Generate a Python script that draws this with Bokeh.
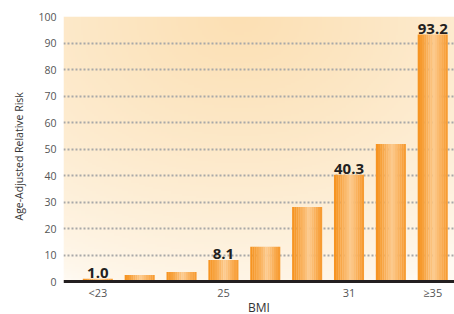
import numpy as np
from bokeh.plotting import figure
from bokeh.models import FixedTicker, Range1d, ColumnDataSource, Title
from bokeh.core.properties import value
from bokeh.embed import file_html
from bokeh.resources import INLINE

# ---- data ----
bmi_groups = ["<23", "23-23.9", "24-24.9", "25-26.9", "27-28.9", "29-30.9", "31-32.9", "33-34.9", "≥35"]
relative_risk = [1.0, 2.5, 3.6, 8.1, 13.1, 28.1, 40.3, 51.9, 93.2]
labelled_bars = [0, 3, 6, 8]
xtick_positions = [0, 3, 6, 8]
xtick_labels = ["<23", "25", "31", "≥35"]
yticks = list(range(0, 101, 10))
x_title = "BMI"
y_title = "Age-Adjusted Relative Risk"

x = np.arange(len(relative_risk))

p = figure(width=454, height=314, output_backend="svg", toolbar_location=None,
           x_range=Range1d(-0.82, 8.52), y_range=Range1d(-12.45, 100),
           min_border_left=62, min_border_right=0, min_border_top=16, min_border_bottom=0)
p.outline_line_color = None
p.background_fill_color = "white"
p.border_fill_color = "white"

# background gradient (decorative)
H, W = 120, 200
yy, xx = np.mgrid[0:H, 0:W]
u = xx / (W - 1)
v = yy / (H - 1)  # 0 bottom, 1 top
d = np.sqrt(((u - 0.45) * 1.1) ** 2 + ((1.0 - v) * 1.0) ** 2)
t = np.clip(1.0 - d / 1.1, 0, 1) ** 0.7
peach = np.array([252, 224, 180])
white = np.array([255, 250, 242])
img = np.zeros((H, W), dtype=np.uint32)
view = img.view(dtype=np.uint8).reshape((H, W, 4))
for c in range(3):
    view[:, :, c] = (white[c] + (peach[c] - white[c]) * t).astype(np.uint8)
view[:, :, 3] = 255
p.image_rgba(image=[img], x=-0.82, y=0, dw=9.34, dh=100, level="image")

# bars with cylindrical gradient
bar_w = 0.714
n = 14
edge = np.array([246, 146, 30])
center = np.array([253, 204, 145])
xs, tops, cols = [], [], []
for i, val in zip(x, relative_risk):
    for k in range(n):
        uu = (k + 0.5) / n
        s = 1 - abs(2 * uu - 1.1) / 1.1
        s = np.clip(s, 0, 1) ** 1.2
        col = edge + (center - edge) * s
        xs.append(i - bar_w / 2 + uu * bar_w)
        tops.append(val)
        cols.append("#%02x%02x%02x" % tuple(int(c) for c in col))
src = ColumnDataSource(dict(x=xs, top=tops, color=cols))
p.vbar(x="x", top="top", width=bar_w / n * 1.08, bottom=0, fill_color="color",
       line_color=None, source=src)

# value labels
lab = ColumnDataSource(dict(x=[x[i] for i in labelled_bars],
                            y=[relative_risk[i] for i in labelled_bars],
                            t=["%.1f" % relative_risk[i] for i in labelled_bars]))
p.text(x="x", y="y", text="t", source=lab, text_align="center", text_baseline="bottom",
       y_offset=-1, text_font=value("Open Sans"), text_font_style="bold",
       text_font_size="15px", text_color="#231f20")

# grid
p.xgrid.grid_line_color = None
p.ygrid.ticker = FixedTicker(ticks=yticks[1:])
p.ygrid.grid_line_color = "#a8a8a8"
p.ygrid.grid_line_dash = "2 2"
p.ygrid.grid_line_width = 2

# x axis drawn at y = 0
p.xaxis.fixed_location = 0
p.xaxis.ticker = FixedTicker(ticks=xtick_positions)
p.xaxis.major_label_overrides = {pos: lab for pos, lab in zip(xtick_positions, xtick_labels)}
p.xaxis.axis_label = x_title
p.xaxis.axis_line_color = "#231f20"
p.xaxis.axis_line_width = 3
p.xaxis.major_tick_line_color = None
p.xaxis.minor_tick_line_color = None
p.xaxis.major_tick_out = 0
p.xaxis.major_tick_in = 0
p.xaxis.minor_tick_out = 0
p.xaxis.major_label_text_font = "Open Sans"
p.xaxis.major_label_text_font_size = "11px"
p.xaxis.major_label_text_color = "#555555"
p.xaxis.major_label_standoff = 3
p.xaxis.axis_label_text_font = "Open Sans"
p.xaxis.axis_label_text_font_size = "12px"
p.xaxis.axis_label_text_font_style = "normal"
p.xaxis.axis_label_text_color = "#333333"
p.xaxis.axis_label_standoff = -4

p.yaxis.ticker = FixedTicker(ticks=yticks)
p.yaxis.axis_line_color = None
p.yaxis.major_tick_line_color = None
p.yaxis.minor_tick_line_color = None
p.yaxis.major_tick_out = 0
p.yaxis.major_tick_in = 0
p.yaxis.minor_tick_out = 0
p.yaxis.major_label_text_font = "Open Sans"
p.yaxis.major_label_text_font_size = "10.5px"
p.yaxis.major_label_text_color = "#555555"
p.yaxis.major_label_standoff = 7

# y axis title
p.add_layout(Title(text=y_title, align="left", offset=94, standoff=19,
                   text_font="Open Sans", text_font_size="10.5px",
                   text_font_style="normal", text_color="#333333"), "left")

open("out.html", "w").write(file_html(p, INLINE))
